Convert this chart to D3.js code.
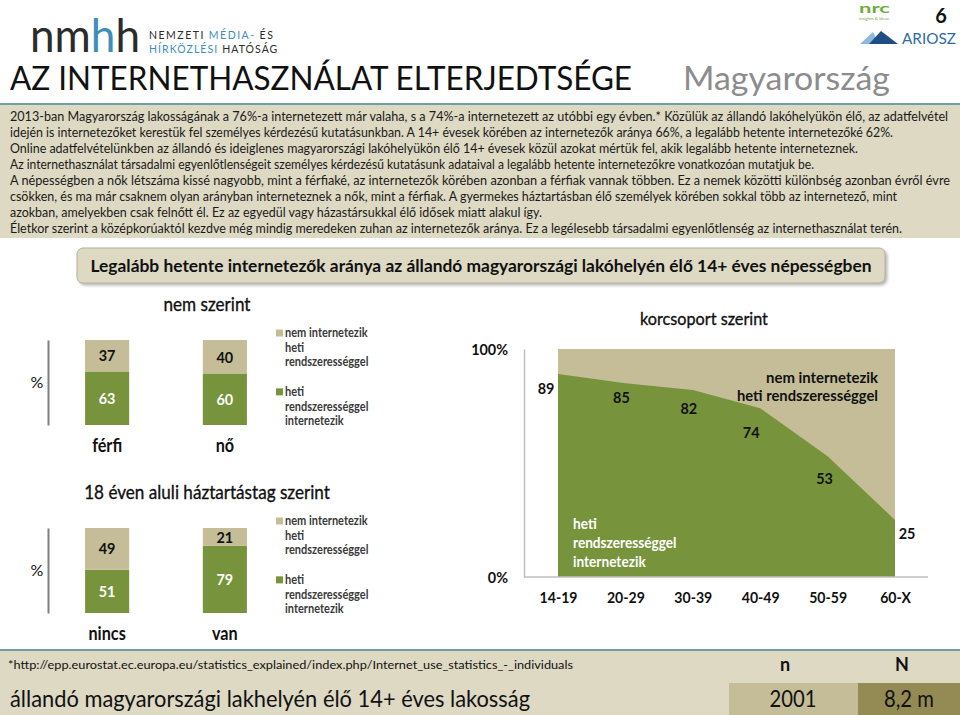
<!DOCTYPE html>
<html><head><meta charset="utf-8">
<script src="https://cdn.jsdelivr.net/npm/d3@7"></script>
<style>body{margin:0;background:#fff}svg{display:block}text{font-family:Lato,'Open Sans',sans-serif}</style>
</head><body><svg id="c" width="960" height="715"></svg>
<script>
// ---------------- data ----------------
const genderCats = ["férfi", "nő"];
const genderYes = [63, 60];
const genderNo = [37, 40];
const childCats = ["nincs", "van"];
const childYes = [51, 79];
const childNo = [49, 21];
const ageCats = ["14-19", "20-29", "30-39", "40-49", "50-59", "60-X"];
const ageYes = [89, 85, 82, 74, 53, 25];
const ageTickValues = [0, 100];
const legendNoLines = ["nem internetezik", "heti", "rendszerességgel"];
const legendYesLines = ["heti", "rendszerességgel", "internetezik"];
const paragraphLines = [
  "2013-ban Magyarország lakosságának a 76%-a internetezett már valaha, s a 74%-a internetezett az utóbbi egy évben.* Közülük az állandó lakóhelyükön élő, az adatfelvétel",
  "idején is internetezőket kerestük fel személyes kérdezésű kutatásunkban. A 14+ évesek körében az internetezők aránya 66%, a legalább hetente internetezőké 62%.",
  "Online adatfelvételünkben az állandó és ideiglenes magyarországi lakóhelyükön élő 14+ évesek közül azokat mértük fel, akik legalább hetente interneteznek.",
  "Az internethasználat társadalmi egyenlőtlenségeit személyes kérdezésű kutatásunk adataival a legalább hetente internetezőkre vonatkozóan mutatjuk be.",
  "A népességben a nők létszáma kissé nagyobb, mint a férfiaké, az internetezők körében azonban a férfiak vannak többen. Ez a nemek közötti különbség azonban évről évre",
  "csökken, és ma már csaknem olyan arányban interneteznek a nők, mint a férfiak. A gyermekes háztartásban élő személyek körében sokkal több az internetező, mint",
  "azokban, amelyekben csak felnőtt él. Ez az egyedül vagy házastársukkal élő idősek miatt alakul így.",
  "Életkor szerint a középkorúaktól kezdve még mindig meredeken zuhan az internetezők aránya. Ez a legélesebb társadalmi egyenlőtlenség az internethasználat terén."
];
const footerN = "2001";
const footerBigN = "8,2 m";

// ---------------- layout / style ----------------
const GREEN = "#77933c", TAN = "#c4bd97", BEIGE = "#ddd9c3", DARKTAN = "#948a54", TEAL = "#6f9fa3";
const paragraphEnds = [948, 893, 858, 814, 950, 897, 542, 902];
const ageLabelNudge = [[-12, 14], [-4, 14], [-4, 18], [-9, 24], [-3, 22], [12, 13]];

const svg = d3.select("#c");
function fit(sel, w) { sel.attr("textLength", w).attr("lengthAdjust", "spacingAndGlyphs"); return sel; }
function squeeze(sel, k = 0.9) {
  sel.each(function () { const w = this.getComputedTextLength(); d3.select(this).attr("textLength", w * k).attr("lengthAdjust", "spacingAndGlyphs"); });
  return sel;
}

const defs = svg.append("defs");
const f = defs.append("filter").attr("id", "sh").attr("x", "-5%").attr("y", "-30%").attr("width", "110%").attr("height", "170%");
f.append("feDropShadow").attr("dx", 2).attr("dy", 2).attr("stdDeviation", 1.5).attr("flood-color", "#888").attr("flood-opacity", 0.6);

// ---------------- header ----------------
const logoParts = [["n", "#2b2b2b"], ["m", "#2b2b2b"], ["h", "#3d8eb9"], ["h", "#2b2b2b"]];
const logoTexts = logoParts.map(([ch, col]) => svg.append("text").attr("y", 52).attr("font-size", 47).attr("fill", col).text(ch));
const logoW = logoTexts.map(t => t.node().getComputedTextLength());
const logoK = 110 / d3.sum(logoW);
let lx = 30;
logoTexts.forEach((t, i) => { t.attr("x", lx); fit(t, logoW[i] * logoK); lx += logoW[i] * logoK; });

const hdr = [
  [[149, 39], 1.5, [["NEMZETI", "#2b2b2b"], ["MÉDIA-", "#3d8eb9"], ["ÉS", "#2b2b2b"]]],
  [[149, 53], 1.05, [["HÍRKÖZLÉSI", "#3d8eb9"], ["HATÓSÁG", "#2b2b2b"]]]
];
hdr.forEach(([[x0, y0], ls, parts]) => {
  let cx = x0;
  parts.forEach(([s, col]) => {
    const t = svg.append("text").attr("x", cx).attr("y", y0).attr("font-size", 10.5).attr("letter-spacing", ls).attr("fill", col).text(s);
    cx += t.node().getComputedTextLength() + 4;
  });
});

// right logos
fit(svg.append("text").attr("x", 859).attr("y", 13).attr("font-size", 14).attr("font-weight", 700).attr("fill", "#6cae3e").text("nrc"), 31);
fit(svg.append("text").attr("x", 859).attr("y", 20).attr("font-size", 4).attr("fill", "#6cae3e").text("insights & ideas"), 30);
svg.append("text").attr("x", 941).attr("y", 23).attr("font-size", 20).attr("font-weight", 700).attr("text-anchor", "middle").attr("fill", "#111").text("6");
svg.append("path").attr("d", "M860,44 L873,32 L879,44 Z").attr("fill", "#8fb8df");
svg.append("path").attr("d", "M869,44 L881,31 L898,44 Z").attr("fill", "#1f4f82");
fit(svg.append("text").attr("x", 902).attr("y", 44).attr("font-size", 15).attr("fill", "#2f6aa7").text("ARIOSZ"), 54);

fit(svg.append("text").attr("x", 10).attr("y", 90).attr("font-size", 32).attr("fill", "#111").text("AZ INTERNETHASZNÁLAT ELTERJEDTSÉGE"), 622);
fit(svg.append("text").attr("x", 683).attr("y", 90).attr("font-size", 33).attr("fill", "#8c8c8c").text("Magyarország"), 207);

// ---------------- paragraph box ----------------
svg.append("rect").attr("x", 0).attr("y", 104).attr("width", 960).attr("height", 134).attr("fill", BEIGE);
svg.append("line").attr("x1", 0).attr("x2", 960).attr("y1", 104).attr("y2", 104).attr("stroke", TEAL).attr("stroke-width", 2);
svg.append("g").selectAll("text").data(paragraphLines).join("text")
  .attr("x", 10).attr("y", (d, i) => 121 + i * 16).attr("font-size", 12.4).attr("fill", "#1a1a1a")
  .text(d => d)
  .each(function (d, i) { fit(d3.select(this), paragraphEnds[i] - 10); });

// ---------------- banner ----------------
svg.append("rect").attr("x", 77).attr("y", 248).attr("width", 808).attr("height", 35).attr("rx", 6)
  .attr("fill", BEIGE).attr("stroke", "#b5b09a").attr("stroke-width", 1).attr("filter", "url(#sh)");
fit(svg.append("text").attr("x", 481).attr("y", 272).attr("text-anchor", "middle").attr("font-size", 17).attr("font-weight", 700).attr("fill", "#111")
  .text("Legalább hetente internetezők aránya az állandó magyarországi lakóhelyén élő 14+ éves népességben"), 781);

// ---------------- stacked bar charts ----------------
function stacked(cats, yes, no, top, bottom, title, titleY) {
  const g = svg.append("g");
  const x = d3.scaleBand().domain(cats).range([48, 284]).paddingInner(0.6255).paddingOuter(0.315);
  const y = d3.scaleLinear().domain([0, 100]).range([bottom, top]);
  squeeze(g.append("text").attr("x", 207).attr("y", titleY).attr("text-anchor", "middle").attr("font-size", 19).attr("fill", "#111")
    .attr("stroke", "#111").attr("stroke-width", 0.35).text(title), 0.9);
  const ya = g.append("g").attr("transform", "translate(48,0)").call(d3.axisLeft(y).tickValues([]).tickSizeOuter(0));
  ya.select(".domain").attr("stroke", "#7f7f7f").attr("stroke-width", 2);
  g.append("text").attr("x", 37).attr("y", (top + bottom) / 2).attr("dy", "0.35em").attr("text-anchor", "middle").attr("font-size", 16).attr("fill", "#111").text("%");
  const rows = cats.map((c, i) => ({ c, yes: yes[i], no: no[i] }));
  g.selectAll(".yes").data(rows).join("rect").attr("x", d => x(d.c)).attr("width", x.bandwidth())
    .attr("y", d => y(d.yes)).attr("height", d => y(0) - y(d.yes)).attr("fill", GREEN);
  g.selectAll(".no").data(rows).join("rect").attr("x", d => x(d.c)).attr("width", x.bandwidth())
    .attr("y", d => y(d.yes + d.no)).attr("height", d => y(d.yes) - y(d.yes + d.no)).attr("fill", TAN);
  squeeze(g.selectAll(".vy").data(rows).join("text").attr("x", d => x(d.c) + x.bandwidth() / 2).attr("y", d => (y(0) + y(d.yes)) / 2)
    .attr("dy", "0.35em").attr("text-anchor", "middle").attr("font-size", 16).attr("font-weight", 700).attr("fill", "#fff").text(d => d.yes));
  squeeze(g.selectAll(".vn").data(rows).join("text").attr("x", d => x(d.c) + x.bandwidth() / 2).attr("y", d => (y(d.yes) + y(d.yes + d.no)) / 2)
    .attr("dy", "0.35em").attr("text-anchor", "middle").attr("font-size", 16).attr("font-weight", 700).attr("fill", "#111").text(d => d.no));
  const xa = g.append("g").attr("transform", `translate(0,${bottom})`).call(d3.axisBottom(x).tickSize(0).tickPadding(14));
  xa.select(".domain").remove();
  xa.selectAll("text").attr("font-family", "Lato").attr("font-size", 18).attr("font-weight", 700).attr("fill", "#111");
  squeeze(xa.selectAll("text"), 0.9);
  const lg = g.append("g");
  const step = (bottom - top) / 5.9;
  const blocks = [{ lines: legendNoLines, color: TAN, y0: top - 7 }, { lines: legendYesLines, color: GREEN, y0: top + (bottom - top) * 0.61 }];
  blocks.forEach(b => {
    lg.append("rect").attr("x", 276).attr("y", b.y0 - 3.5).attr("width", 7).attr("height", 7).attr("fill", b.color);
    squeeze(lg.selectAll(null).data(b.lines).join("text").attr("x", 285).attr("y", (d, i) => b.y0 + i * step).attr("dy", "0.35em")
      .attr("font-size", 12.5).attr("font-weight", 700).attr("fill", "#3a3a3a").text(d => d), 0.88);
  });
}
stacked(genderCats, genderYes, genderNo, 340, 425, "nem szerint", 311);
stacked(childCats, childYes, childNo, 528, 613, "18 éven aluli háztartástag szerint", 499);

// ---------------- area chart ----------------
(function () {
  const g = svg.append("g");
  const x = d3.scalePoint().domain(ageCats).range([558, 895]);
  const y = d3.scaleLinear().domain([0, 100]).range([577, 349]);
  const pts = ageCats.map((c, i) => ({ c, v: ageYes[i] }));
  squeeze(g.append("text").attr("x", 704).attr("y", 325).attr("text-anchor", "middle").attr("font-size", 18).attr("fill", "#111")
    .attr("stroke", "#111").attr("stroke-width", 0.35).text("korcsoport szerint"), 0.9);
  g.append("rect").attr("x", x(ageCats[0])).attr("y", y(100)).attr("width", x(ageCats[ageCats.length - 1]) - x(ageCats[0]))
    .attr("height", y(0) - y(100)).attr("fill", TAN);
  g.append("path").datum(pts).attr("fill", GREEN)
    .attr("d", d3.area().x(d => x(d.c)).y0(y(0)).y1(d => y(d.v)));
  const ya = g.append("g").attr("transform", "translate(524,0)")
    .call(d3.axisLeft(y).tickValues(ageTickValues).tickFormat(d => d + "%").tickSize(0).tickPadding(16).tickSizeOuter(0));
  ya.select(".domain").attr("stroke", "#bfbfbf").attr("stroke-width", 1.5);
  ya.selectAll("text").attr("font-family", "Lato").attr("font-size", 16).attr("font-weight", 700).attr("fill", "#111");
  squeeze(ya.selectAll("text"), 0.9);
  g.append("line").attr("x1", 524).attr("x2", 928).attr("y1", y(0)).attr("y2", y(0)).attr("stroke", "#bfbfbf").attr("stroke-width", 1.5);
  const xa = g.append("g").attr("transform", `translate(0,${y(0)})`).call(d3.axisBottom(x).tickSize(0).tickPadding(15));
  xa.select(".domain").remove();
  xa.selectAll("text").attr("font-family", "Lato").attr("font-size", 16).attr("font-weight", 700).attr("fill", "#111");
  squeeze(xa.selectAll("text"), 0.88);
  squeeze(g.selectAll(".val").data(pts).join("text")
    .attr("x", (d, i) => x(d.c) + ageLabelNudge[i][0]).attr("y", (d, i) => y(d.v) + ageLabelNudge[i][1]).attr("dy", "0.35em")
    .attr("text-anchor", "middle").attr("font-size", 16).attr("font-weight", 700).attr("fill", "#111").text(d => d.v), 0.9);
  const nl = ["nem internetezik", "heti rendszerességgel"];
  g.selectAll(".nl").data(nl).join("text").attr("x", 878).attr("y", (d, i) => 383 + i * 18).attr("text-anchor", "end")
    .attr("font-size", 15.5).attr("font-weight", 700).attr("fill", "#111").text(d => d)
    .each(function (d, i) { fit(d3.select(this), i ? 141 : 112); });
  squeeze(g.selectAll(".yl").data(legendYesLines).join("text").attr("x", 573).attr("y", (d, i) => 529 + i * 19)
    .attr("font-size", 15.5).attr("font-weight", 700).attr("fill", "#fff").text(d => d), 0.88);
})();

// ---------------- footer ----------------
svg.append("rect").attr("x", 0).attr("y", 650).attr("width", 960).attr("height", 65).attr("fill", BEIGE);
svg.append("line").attr("x1", 0).attr("x2", 960).attr("y1", 650).attr("y2", 650).attr("stroke", TEAL).attr("stroke-width", 2);
fit(svg.append("text").attr("x", 8).attr("y", 669).attr("font-size", 11.5).attr("fill", "#111")
  .text("*http://epp.eurostat.ec.europa.eu/statistics_explained/index.php/Internet_use_statistics_-_individuals"), 565);
svg.append("text").attr("x", 785).attr("y", 671).attr("text-anchor", "middle").attr("font-size", 18).attr("font-weight", 700).attr("fill", "#111").text("n");
svg.append("text").attr("x", 902).attr("y", 671).attr("text-anchor", "middle").attr("font-size", 18).attr("font-weight", 700).attr("fill", "#111").text("N");
svg.append("rect").attr("x", 729).attr("y", 683).attr("width", 129).attr("height", 32).attr("fill", TAN);
svg.append("rect").attr("x", 858).attr("y", 683).attr("width", 102).attr("height", 32).attr("fill", DARKTAN);
fit(svg.append("text").attr("x", 10).attr("y", 707).attr("font-size", 24).attr("fill", "#111").text("állandó magyarországi lakhelyén élő 14+ éves lakosság"), 520);
squeeze(svg.append("text").attr("x", 793).attr("y", 707).attr("text-anchor", "middle").attr("font-size", 23).attr("fill", "#111").text(footerN), 0.88);
squeeze(svg.append("text").attr("x", 909).attr("y", 707).attr("text-anchor", "middle").attr("font-size", 23).attr("fill", "#111").text(footerBigN), 0.88);
</script></body></html>
